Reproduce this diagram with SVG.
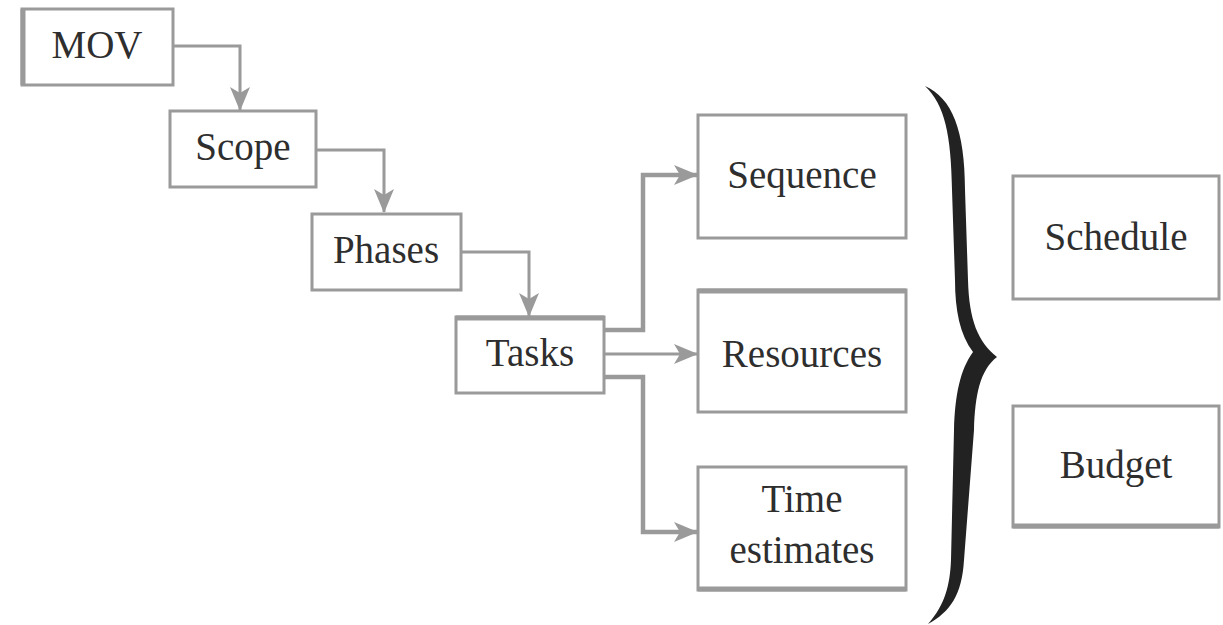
<svg xmlns="http://www.w3.org/2000/svg" width="1223" height="625" viewBox="0 0 1223 625">
<style>
.box{fill:#fff;stroke:#9a9a9a;stroke-width:3}
.edge{stroke:#9a9a9a;stroke-width:5;fill:none}
.lbl{font-family:"Liberation Serif","Times New Roman",serif;font-size:39px;fill:#2e2e2e;text-anchor:middle}
.con{fill:none;stroke:#9a9a9a;stroke-width:3}
.thick{stroke-width:4.5}
</style>
<defs>
<marker id="arr" viewBox="0 0 24 20" refX="23" refY="10" markerWidth="24" markerHeight="20" markerUnits="userSpaceOnUse" orient="auto">
<path d="M0,0 L24,10 L0,20 L6,10 Z" fill="#9a9a9a"/>
</marker>
</defs>
<rect width="1223" height="625" fill="#fff"/>
<g id="connectors">
<path class="con" d="M173,46 H240 V110" marker-end="url(#arr)"/>
<path class="con" d="M316,150 H384 V212" marker-end="url(#arr)"/>
<path class="con" d="M461,252 H529 V316" marker-end="url(#arr)"/>
<path class="con thick" d="M604,330 H643 V175 H697" marker-end="url(#arr)"/>
<path class="con" d="M604,354 H697" marker-end="url(#arr)"/>
<path class="con thick" d="M604,377 H643 V532 H697" marker-end="url(#arr)"/>
</g>
<g id="mov">
<rect class="box" x="22" y="9" width="151" height="76"/>
<line class="edge" x1="23" y1="9" x2="23" y2="85"/>
<text class="lbl" x="97" y="58">MOV</text>
</g>
<g id="scope">
<rect class="box" x="170" y="111" width="146" height="76"/>
<text class="lbl" x="243" y="160">Scope</text>
</g>
<g id="phases">
<rect class="box" x="312" y="214" width="149" height="76"/>
<text class="lbl" x="386" y="263">Phases</text>
</g>
<g id="tasks">
<rect class="box" x="456" y="317" width="148" height="76"/>
<line class="edge" x1="456" y1="318" x2="604" y2="318"/>
<text class="lbl" x="530" y="366">Tasks</text>
</g>
<g id="sequence">
<rect class="box" x="698" y="115" width="208" height="123"/>
<text class="lbl" x="802" y="188">Sequence</text>
</g>
<g id="resources">
<rect class="box" x="698" y="290" width="208" height="122"/>
<line class="edge" x1="698" y1="291" x2="906" y2="291"/>
<text class="lbl" x="802" y="367">Resources</text>
</g>
<g id="time">
<rect class="box" x="698" y="467" width="208" height="123"/>
<line class="edge" x1="698" y1="589" x2="906" y2="589"/>
<text class="lbl" x="802" y="512">Time</text>
<text class="lbl" x="802" y="563">estimates</text>
</g>
<g id="brace">
<path fill="#222" d="M925,86 C952,98 965,130 965,190 L968,280 C969,320 978,342 997,357 C980,370 975,395 974,430 L964,560 C962,595 950,612 928,624 C945,605 950,585 951,560 L954,430 C955,395 960,370 973,352 C960,335 955,310 955,280 L952,190 C951,135 945,105 925,86 Z"/>
</g>
<g id="schedule">
<rect class="box" x="1013" y="176" width="206" height="123"/>
<text class="lbl" x="1116" y="250">Schedule</text>
</g>
<g id="budget">
<rect class="box" x="1013" y="406" width="206" height="121"/>
<line class="edge" x1="1013" y1="526" x2="1219" y2="526"/>
<text class="lbl" x="1116" y="478">Budget</text>
</g>
</svg>
